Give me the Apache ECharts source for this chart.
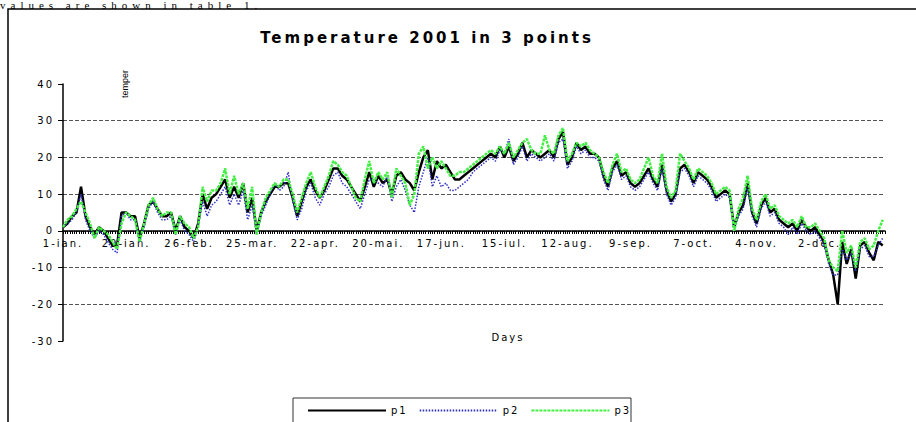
<!DOCTYPE html>
<html>
<head>
<meta charset="utf-8">
<script src="https://cdn.jsdelivr.net/npm/echarts@6/dist/echarts.min.js"></script>
<style>
  html, body { margin: 0; padding: 0; background: #fff; }
  #chart { width: 916px; height: 422px; }
  #chart text[style*="DejaVu"], #chart text[font-family*="DejaVu"] { letter-spacing: 2px; }
  #chart text[style*="bold"], #chart text[font-weight="bold"] { letter-spacing: 3px; }
  #chart text[style*="Serif"], #chart text[font-family*="Serif"] { letter-spacing: 5px; }
</style>
</head>
<body>
<div id="chart"></div>
<script>
// Tick labels on the day axis (one every 28 days)
const dayLabels = ['1-ian.','29-ian.','26-feb.','25-mar.','22-apr.','20-mai.','17-jun.','15-iul.','12-aug.','9-sep.','7-oct.','4-nov.','2-dec.'];
const labelStep = 28;   // days between labels
const sampleStep = 2;   // days between readings below

// Temperatures, one value every 2 days starting 1 Jan
const p1 = [
  1, 2, 4, 5, 12, 4, 1, -1, 1, 0, -2, -4, -4,
  5, 5, 4, 4, -2, 2, 7, 8, 6, 4, 4, 5, 0, 4, 1, 0, -2, 2,
  10, 6, 9, 10, 12, 14, 9, 12, 9, 13, 5, 9, 0, 5, 8, 10, 12, 12,
  13, 13, 9, 4, 8, 12, 14, 11, 9, 11, 14, 17, 17, 15, 14, 12, 10, 8,
  12, 16, 12, 15, 13, 14, 10, 15, 16, 14, 13, 11, 16, 20, 22, 14, 19, 17, 18, 16, 14, 14,
  15, 16, 17, 18, 19, 20, 21, 20, 23, 20, 23, 19, 21, 24, 20, 22, 21, 20, 21, 22, 20, 25, 27, 18, 20, 24, 22, 23, 21, 21, 20,
  15, 12, 17, 19, 15, 16, 13, 12, 13, 15, 17, 14, 12, 18, 11, 8, 10, 17, 18, 16, 13, 16, 15, 14, 12, 9, 10, 11, 10,
  1, 5, 7, 13, 5, 2, 7, 9, 5, 6, 3, 2, 1, 2, 0, 3, 1, 0, 1, -1, -3, -8, -12, -20, -3, -9, -5, -13, -4, -3, -6, -8, -3, -4
];
const p2 = [
  1, 2, 3, 5, 10, 3, 0, -2, 0, -1, -3, -5, -6,
  4, 5, 3, 3, -3, 1, 6, 8, 5, 3, 3, 4, -1, 3, 0, -1, -3, 1,
  8, 4, 7, 8, 10, 12, 7, 10, 7, 11, 3, 7, -1, 4, 7, 10, 13, 11,
  12, 16, 8, 3, 6, 11, 13, 9, 7, 10, 12, 15, 16, 13, 12, 10, 8, 6,
  10, 14, 14, 13, 12, 15, 8, 12, 14, 11, 7, 5, 12, 16, 20, 12, 15, 12, 13, 11, 11, 12,
  13, 14, 16, 17, 18, 19, 20, 19, 22, 21, 25, 18, 20, 23, 19, 21, 20, 19, 20, 21, 19, 24, 25, 17, 19, 23, 21, 22, 20, 20, 19,
  14, 11, 16, 18, 14, 15, 12, 11, 12, 14, 16, 13, 11, 17, 10, 7, 9, 16, 17, 15, 12, 15, 14, 13, 11, 8, 9, 10, 9,
  0, 4, 6, 12, 4, 1, 6, 8, 4, 5, 2, 1, -1, 1, -1, 2, 0, -1, 0, -2, -4, -9, -12, -12, -5, -8, -6, -11, -5, -4, -7, -7, -4, -2
];
const p3 = [
  1, 3, 4, 6, 8, 5, 2, -2, 1, 0, -1, -3, -5,
  2, 5, 4, 3, -3, 2, 7, 9, 6, 4, 5, 5, -1, 4, 2, 1, -2, 1,
  12, 8, 11, 11, 13, 17, 10, 15, 10, 13, 6, 12, -1, 5, 9, 11, 13, 12,
  14, 14, 10, 5, 9, 13, 16, 12, 9, 12, 15, 19, 18, 16, 15, 12, 9, 8,
  14, 19, 13, 16, 14, 16, 9, 17, 15, 13, 7, 10, 21, 23, 17, 20, 17, 19, 17, 15, 15, 16,
  16, 17, 18, 19, 20, 21, 22, 21, 23, 21, 24, 20, 22, 24, 25, 22, 21, 21, 26, 22, 21, 26, 28, 19, 21, 24, 23, 24, 22, 21, 20,
  16, 13, 18, 21, 16, 17, 14, 13, 14, 17, 20, 15, 13, 21, 12, 9, 11, 21, 19, 17, 14, 17, 16, 15, 13, 10, 11, 12, 11,
  0, 6, 9, 15, 6, 3, 8, 10, 6, 7, 4, 3, 2, 3, 1, 4, 1, 1, 2, 0, -2, -8, -10, -11, 0, -6, -4, -10, -3, -2, -5, -4, 0, 3
];
const seriesNames = ['p1', 'p2', 'p3'];

const toPairs = arr => arr.map((v, i) => [i * sampleStep, v]);

const chart = echarts.init(document.getElementById('chart'), null, { renderer: 'svg' });
chart.setOption({
  animation: false,
  backgroundColor: '#fff',
  title: {
    text: 'Temperature 2001 in 3 points',
    left: 422, top: 25, textAlign: 'center',
    textStyle: { fontFamily: 'DejaVu Sans', fontWeight: 'bold', fontSize: 15, color: '#000' }
  },
  grid: { left: 63, right: 31, top: 84, bottom: 81 },
  xAxis: {
    type: 'value', min: 0, max: 365, interval: labelStep,
    offset: -110,
    axisLine: { onZero: false, lineStyle: { color: '#000', width: 1.5 } },
    axisTick: { show: true, length: 3, lineStyle: { color: '#000', width: 1 } },
    minorTick: { show: true, splitNumber: labelStep, length: 3, lineStyle: { color: '#000', width: 1 } },
    splitLine: { show: false },
    axisLabel: {
      margin: 7, fontFamily: 'DejaVu Sans', fontSize: 10, color: '#000',
      formatter: v => (v % labelStep === 0 && dayLabels[v / labelStep] !== undefined) ? dayLabels[v / labelStep] : ''
    }
  },
  yAxis: {
    type: 'value', min: -30, max: 40, interval: 10,
    axisLine: { show: true, onZero: false, lineStyle: { color: '#000', width: 1.5 } },
    axisTick: { show: true, length: 5, lineStyle: { color: '#000', width: 1 } },
    axisLabel: { margin: 9, fontFamily: 'DejaVu Sans', fontSize: 10, color: '#000' },
    splitLine: { show: true, showMinLine: false, showMaxLine: false,
      lineStyle: { color: '#555', type: [4, 2], width: 1 } }
  },
  legend: {
    left: 307, top: 405, padding: 0, itemWidth: 78, itemHeight: 14, itemGap: 15,
    data: seriesNames,
    itemStyle: { opacity: 0 },
    textStyle: { fontFamily: 'DejaVu Sans', fontSize: 10, color: '#000' }
  },
  graphic: [
    { type: 'rect', silent: true, z: 0,
      shape: { x: 8, y: 9, width: 1000, height: 600 },
      style: { fill: 'none', stroke: '#000', lineWidth: 1.5 } },
    { type: 'text', silent: true, x: 0, y: -1,
      style: { text: 'values are shown in table 1.', fontFamily: 'Liberation Serif', fontSize: 11,
        fill: '#000', align: 'left', verticalAlign: 'top' } },
    { type: 'text', silent: true, x: 125, y: 84, rotation: Math.PI / 2,
      style: { text: 'temper', fontFamily: 'Liberation Sans', fontSize: 9, fill: '#000',
        align: 'center', verticalAlign: 'middle' } },
    { type: 'text', silent: true, x: 508, y: 337,
      style: { text: 'Days', fontFamily: 'DejaVu Sans', fontSize: 10, fill: '#000',
        align: 'center', verticalAlign: 'middle' } },
    { type: 'rect', silent: true,
      shape: { x: 293, y: 398, width: 338, height: 60 },
      style: { fill: 'none', stroke: '#333', lineWidth: 1 } }
  ],
  series: [
    { name: 'p1', type: 'line', data: toPairs(p1), symbol: 'none', showSymbol: false, z: 3,
      lineStyle: { color: '#000', width: 2.5 }, itemStyle: { color: '#000' } },
    { name: 'p2', type: 'line', data: toPairs(p2), symbol: 'none', showSymbol: false, z: 4,
      lineStyle: { color: '#3030c0', width: 1.5, type: [1.5, 1.5] }, itemStyle: { color: '#3030c0' } },
    { name: 'p3', type: 'line', data: toPairs(p3), symbol: 'none', showSymbol: false, z: 5,
      lineStyle: { color: '#44ee44', width: 2.5, type: [3, 1] }, itemStyle: { color: '#44ee44' } }
  ]
});
</script>
</body>
</html>
